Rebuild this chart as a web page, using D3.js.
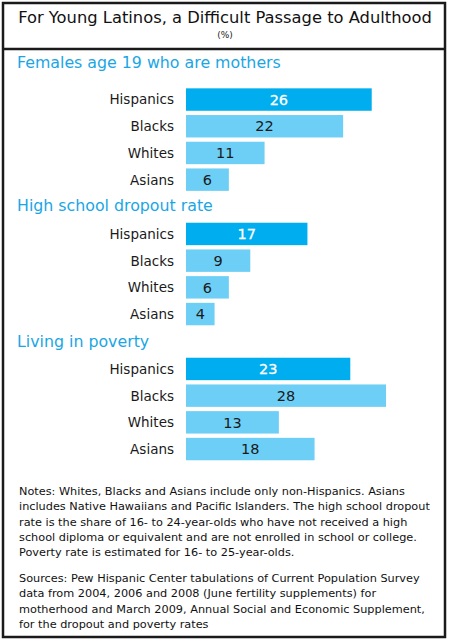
<!DOCTYPE html>
<html>
<head>
<meta charset="utf-8">
<script src="https://cdn.jsdelivr.net/npm/d3@7"></script>
<style>
  html, body { margin: 0; padding: 0; background: #fff; }
  svg { display: block; }
</style>
</head>
<body>
<script>
// ---- Data ----
const chartTitle = "For Young Latinos, a Difficult Passage to Adulthood";
const chartSubtitle = "(%)";
const sectionTitles = ["Females age 19 who are mothers", "High school dropout rate", "Living in poverty"];
const groups = ["Hispanics", "Blacks", "Whites", "Asians"];
const motherValues = [26, 22, 11, 6];
const dropoutValues = [17, 9, 6, 4];
const povertyValues = [23, 28, 13, 18];
const notesLines = [
  "Notes: Whites, Blacks and Asians include only non-Hispanics. Asians",
  "includes Native Hawaiians and Pacific Islanders. The high school dropout",
  "rate is the share of 16- to 24-year-olds who have not received a high",
  "school diploma or equivalent and are not enrolled in school or college.",
  "Poverty rate is estimated for 16- to 25-year-olds."
];
const sourcesLines = [
  "Sources: Pew Hispanic Center tabulations of Current Population Survey",
  "data from 2004, 2006 and 2008 (June fertility supplements) for",
  "motherhood and March 2009, Annual Social and Economic Supplement,",
  "for the dropout and poverty rates"
];

const sections = [
  { title: sectionTitles[0], values: motherValues },
  { title: sectionTitles[1], values: dropoutValues },
  { title: sectionTitles[2], values: povertyValues }
];

// ---- Layout ----
const W = 450, H = 640;
const FONT = "'DejaVu Sans', Verdana, sans-serif";
const svg = d3.select("body").append("svg").attr("width", W).attr("height", H);

function fitWidth(sel, target) {
  const node = sel.node();
  const fs = parseFloat(sel.attr("font-size"));
  const w = node.getComputedTextLength();
  sel.attr("font-size", (fs * target / w).toFixed(2));
}

// Frame
svg.append("rect").attr("x", 3).attr("y", 3).attr("width", 442).attr("height", 634)
  .attr("fill", "#fff").attr("stroke", "#1a1a1a").attr("stroke-width", 2.5);
svg.append("line").attr("x1", 3).attr("x2", 445).attr("y1", 49).attr("y2", 49)
  .attr("stroke", "#1a1a1a").attr("stroke-width", 2.5);

// Title
const t = svg.append("text").attr("x", 225).attr("y", 23).attr("text-anchor", "middle")
  .attr("font-family", FONT).attr("font-size", 15).attr("fill", "#111").text(chartTitle);
fitWidth(t, 414);
svg.append("text").attr("x", 225).attr("y", 38).attr("text-anchor", "middle")
  .attr("font-family", FONT).attr("font-size", 9).attr("fill", "#222").text(chartSubtitle);

// Scales
const x = d3.scaleLinear().domain([0, 28]).range([186, 386]);
const sectionRanges = [[86.2, 193], [220.6, 327.4], [355.6, 462.4]];
const titleBaselines = [68, 211, 347];

const colorHisp = "#00adee";
const colorOther = "#6dcff6";
const titleColor = "#1aa6e4";

let sectionTitleSize = null;
sections.forEach((sec, i) => {
  const y = d3.scaleBand().domain(groups).range(sectionRanges[i]).paddingInner(0.16).paddingOuter(0.08);
  const g = svg.append("g");
  const st = g.append("text").attr("x", 17).attr("y", titleBaselines[i])
    .attr("font-family", FONT).attr("font-size", 16).attr("fill", titleColor).text(sec.title);
  if (i === 0) { fitWidth(st, 264); sectionTitleSize = st.attr("font-size"); }
  else st.attr("font-size", sectionTitleSize);

  const data = groups.map((k, j) => ({ k, v: sec.values[j] }));
  g.selectAll("rect.bar").data(data).join("rect").attr("class", "bar")
    .attr("x", x(0)).attr("y", d => y(d.k))
    .attr("width", d => x(d.v) - x(0)).attr("height", y.bandwidth())
    .attr("fill", d => d.k === "Hispanics" ? colorHisp : colorOther);

  // category labels
  g.selectAll("text.cat").data(data).join("text").attr("class", "cat")
    .attr("x", 174).attr("y", d => y(d.k) + y.bandwidth() / 2).attr("dy", "0.36em")
    .attr("text-anchor", "end").attr("font-family", FONT).attr("font-size", 13.5)
    .attr("fill", "#1a1a1a").text(d => d.k);

  // value labels
  g.selectAll("text.val").data(data).join("text").attr("class", "val")
    .attr("x", d => (x(0) + x(d.v)) / 2).attr("y", d => y(d.k) + y.bandwidth() / 2).attr("dy", "0.36em")
    .attr("text-anchor", "middle").attr("font-family", FONT).attr("font-size", 14.5)
    .attr("fill", d => d.k === "Hispanics" ? "#fff" : "#1a1a1a")
    .attr("stroke", d => d.k === "Hispanics" ? "#fff" : "none").attr("stroke-width", 0.3)
    .text(d => d.v);
});

// Notes
const notesG = svg.append("g").attr("font-family", FONT).attr("fill", "#111");
const n0 = notesG.append("text").attr("x", 19).attr("y", 495).attr("font-size", 11).text(notesLines[0]);
fitWidth(n0, 386);
const noteSize = n0.attr("font-size");
notesLines.slice(1).forEach((l, i) => {
  notesG.append("text").attr("x", 19).attr("y", 495 + 15.3 * (i + 1)).attr("font-size", noteSize).text(l);
});
sourcesLines.forEach((l, i) => {
  notesG.append("text").attr("x", 19).attr("y", 582 + 15.3 * i).attr("font-size", noteSize).text(l);
});
</script>
</body>
</html>
